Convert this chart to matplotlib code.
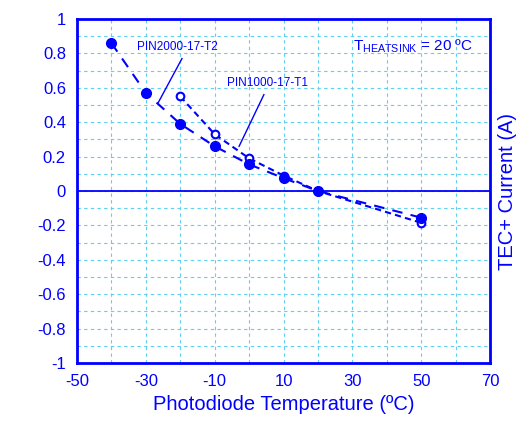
import numpy as np
import matplotlib.pyplot as plt

plt.rcParams['font.family'] = ['Liberation Sans', 'DejaVu Sans']
plt.rcParams['axes.unicode_minus'] = False

blue = '#0000ff'
grid_c = '#5fd0f0'

# PIN2000-17-T2 (filled markers)
t2_x = [-40, -30, -20, -10, 0, 10, 20, 50]
t2_y = [0.86, 0.57, 0.39, 0.26, 0.155, 0.075, 0.0, -0.155]

# PIN1000-17-T1 (open markers)
t1_x = [-20, -10, 0, 10, 20, 50]
t1_y = [0.55, 0.33, 0.19, 0.09, 0.0, -0.185]

fig = plt.figure(figsize=(5.16, 4.23), dpi=100)
ax = fig.add_axes([77 / 516, 60 / 423, 413 / 516, 344 / 423])

ax.set_xlim(-50, 70)
ax.set_ylim(-1, 1)
ax.set_xticks(np.arange(-50, 71, 20))
ax.set_xticks(np.arange(-50, 71, 10), minor=True)
ax.set_yticks(np.round(np.arange(-1, 1.01, 0.2), 1))
ax.set_yticks(np.round(np.arange(-1, 1.01, 0.1), 1), minor=True)
ax.set_yticklabels(['-1', '-0.8', '-0.6', '-0.4', '-0.2', '0', '0.2', '0.4', '0.6', '0.8', '1'])
ax.grid(True, which='both', color=grid_c, linestyle=(0, (3, 3)), linewidth=0.8)
ax.tick_params(which='both', length=0, colors=blue, labelsize=12, pad=8)
for s in ax.spines.values():
    s.set_color(blue)
    s.set_linewidth(2)
ax.axhline(0, color=blue, linewidth=1.3)

ax.plot(t1_x, t1_y, color=blue, linestyle=(0, (3, 2)), linewidth=1.5,
        marker='o', markersize=5.5, markerfacecolor='white', markeredgewidth=1.5, zorder=3)
ax.plot(t2_x, t2_y, color=blue, linestyle=(0, (5, 4)), linewidth=1.5,
        marker='o', markersize=7, markerfacecolor=blue, zorder=4)

ax.text(-32.6, 0.84, 'PIN2000-17-T2', color=blue, fontsize=8.5, va='center')
ax.plot([-19.5, -26.5], [0.77, 0.51], color=blue, linewidth=1)
ax.text(-6.4, 0.63, 'PIN1000-17-T1', color=blue, fontsize=8.5, va='center')
ax.plot([4.3, -2.9], [0.56, 0.26], color=blue, linewidth=1)
ax.text(30.2, 0.84, r'T$_{\mathregular{HEATSINK}}$ = 20 ºC', color=blue, fontsize=11, va='center')

ax.set_xlabel('Photodiode Temperature (ºC)', color=blue, fontsize=14.5, labelpad=4)
ax.yaxis.set_label_position('right')
ax.set_ylabel('TEC+ Current (A)', color=blue, fontsize=14.5, labelpad=6)

fig.savefig('out.png', dpi=100)
